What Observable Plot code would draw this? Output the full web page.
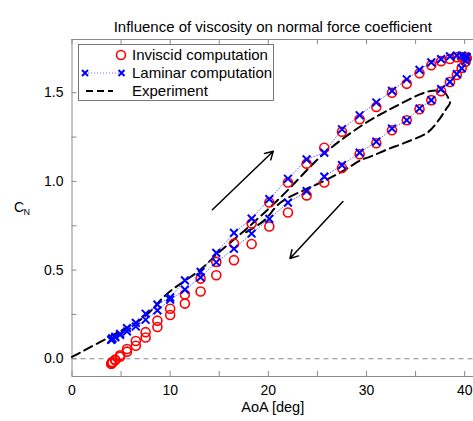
<!DOCTYPE html>
<html>
<head>
<meta charset="utf-8">
<script src="https://cdn.jsdelivr.net/npm/d3@7"></script>
<script src="https://cdn.jsdelivr.net/npm/@observablehq/plot@0.6"></script>
<style>
  html, body { margin: 0; padding: 0; background: #fff; }
  svg { display: block; }
</style>
</head>
<body>
<div id="chart"></div>
<script>
// ---- data ----
const title = "Influence of viscosity on normal force coefficient";
const xLabel = "AoA [deg]";
const yLabelMain = "C";
const yLabelSub = "N";

// angle of attack at each computed time step (one half cycle)
const aoa = [4.0, 4.1, 4.4, 4.9, 5.6, 6.5, 7.5, 8.7, 10.0, 11.5, 13.1, 14.7, 16.5, 18.3, 20.1, 22.0,
             23.9, 25.7, 27.5, 29.3, 31.0, 32.6, 34.1, 35.4, 36.6, 37.6, 38.5, 39.2, 39.7, 40.1, 40.2];

// inviscid computation (upstroke / downstroke at the same AoA)
const invUp   = [-0.028, -0.018, -0.005, 0.020, 0.055, 0.100, 0.150, 0.215, 0.282, 0.362, 0.452, 0.546,
                 0.650, 0.763, 0.881, 0.994, 1.100, 1.190, 1.280, 1.350, 1.420, 1.500, 1.550, 1.610,
                 1.655, 1.678, 1.690, 1.700, 1.700, 1.700, 1.695];
const invDown = [-0.028, -0.022, -0.008, 0.012, 0.040, 0.073, 0.120, 0.179, 0.247, 0.311, 0.379, 0.471,
                 0.556, 0.647, 0.746, 0.825, 0.921, 0.994, 1.076, 1.153, 1.215, 1.288, 1.345, 1.407,
                 1.458, 1.508, 1.560, 1.600, 1.640, 1.675, 1.695];

// laminar computation
const lamUp   = [0.107, 0.115, 0.123, 0.140, 0.173, 0.202, 0.254, 0.305, 0.346, 0.442, 0.490, 0.597,
                 0.710, 0.790, 0.900, 1.015, 1.124, 1.162, 1.294, 1.373, 1.445, 1.510, 1.576, 1.629,
                 1.671, 1.689, 1.705, 1.710, 1.710, 1.705, 1.700];
const lamDown = [0.107, 0.112, 0.122, 0.135, 0.154, 0.182, 0.220, 0.273, 0.333, 0.390, 0.459, 0.544,
                 0.620, 0.706, 0.789, 0.880, 0.945, 1.027, 1.092, 1.162, 1.224, 1.298, 1.345, 1.411,
                 1.458, 1.520, 1.561, 1.605, 1.637, 1.680, 1.700];

// experiment
const expAoA = [0, 3.9, 7.3, 9.7, 13.1, 14.8, 17.7, 21.25, 25.6, 29.4, 31.45, 33.0, 35.5, 36.75, 37.85, 38.4, 38.5,
                38.1, 37.35, 36.25, 34.0, 32.15, 30.45, 29.4, 27.7, 25.6, 23.8, 21.25, 19.5, 17.7];
const expCN  = [0.010, 0.126, 0.233, 0.367, 0.503, 0.592, 0.729, 0.910, 1.153, 1.311, 1.379, 1.424, 1.492, 1.511, 1.506, 1.463, 1.441,
                1.407, 1.345, 1.277, 1.220, 1.181, 1.141, 1.119, 1.062, 1.000, 0.955, 0.881, 0.776, 0.712];

// direction arrows
const arrowX1 = [14.3, 27.6];
const arrowY1 = [0.84, 0.887];
const arrowX2 = [20.5, 22.2];
const arrowY2 = [1.17, 0.565];

// ticks
const xTicks = [0, 10, 20, 30, 40];
const xMinor = [5, 15, 25, 35];
const yTicks = [0, 0.5, 1.0, 1.5];
const yMinor = [0.25, 0.75, 1.25];

const legendLabels = ["Inviscid computation", "Laminar computation", "Experiment"];

// ---- tables ----
const n = aoa.length;
const inviscid = [];
const laminar = [];
for (let i = 0; i < n; i++) { inviscid.push({x: aoa[i], y: invUp[i]}); laminar.push({x: aoa[i], y: lamUp[i]}); }
for (let i = n - 1; i >= 0; i--) { inviscid.push({x: aoa[i], y: invDown[i]}); laminar.push({x: aoa[i], y: lamDown[i]}); }
const experiment = expAoA.map((a, i) => ({x: a, y: expCN[i]}));
const arrows = arrowX1.map((a, i) => ({x1: a, y1: arrowY1[i], x2: arrowX2[i], y2: arrowY2[i]}));
const allX = xTicks.concat(xMinor);
const allY = yTicks.concat(yMinor);

const xDom = [0, 40.9], yDom = [-0.1, 1.8];
const tickLenY = 5 * (yDom[1] - yDom[0]) / 337;
const tickLenX = 5 * (xDom[1] - xDom[0]) / 401.5;
const frameColor = "#8a8a8a";
const FONT = "'Liberation Sans', Arial, Helvetica, sans-serif";

const chart = Plot.plot({
  width: 473,
  height: 421,
  marginLeft: 71.5,
  marginRight: 0,
  marginTop: 39,
  marginBottom: 45,
  style: {fontFamily: FONT, fontSize: "14px", background: "white", color: "black", overflow: "visible"},
  x: {domain: xDom, ticks: xTicks, tickSize: 0, tickPadding: 9, label: null, tickFormat: d => String(d)},
  y: {domain: yDom, ticks: yTicks, tickSize: 0, tickPadding: 8.5, label: null, tickFormat: d3.format(".1f")},
  marks: [
    Plot.ruleY([0], {stroke: "#7a7a7a", strokeWidth: 0.9, strokeDasharray: "5,4"}),
    // frame (top, bottom, left)
    Plot.ruleY([yDom[1], yDom[0]], {stroke: frameColor, strokeWidth: 1}),
    Plot.ruleX([xDom[0]], {stroke: frameColor, strokeWidth: 1}),
    // inward ticks
    Plot.ruleX(allX, {x: d => d, y1: yDom[0], y2: yDom[0] + tickLenY, stroke: frameColor}),
    Plot.ruleX(allX, {x: d => d, y1: yDom[1], y2: yDom[1] - tickLenY, stroke: frameColor}),
    Plot.ruleY(allY, {y: d => d, x1: xDom[0], x2: xDom[0] + tickLenX, stroke: frameColor}),
    // experiment
    Plot.line(experiment, {x: "x", y: "y", stroke: "black", strokeWidth: 2, strokeDasharray: "9,5", curve: "catmull-rom"}),
    // laminar dotted connection
    Plot.line(laminar, {x: "x", y: "y", stroke: "#4a4aff", strokeWidth: 0.8, strokeDasharray: "1,2"}),
    // inviscid circles
    Plot.dot(inviscid, {x: "x", y: "y", r: 4.5, stroke: "#ff0000", strokeWidth: 1.6, fill: "none"}),
    // laminar crosses
    Plot.dot(laminar, {x: "x", y: "y", r: 3.6, symbol: "times", stroke: "#0000ff", strokeWidth: 2}),
    // arrows
    Plot.arrow(arrows, {x1: "x1", y1: "y1", x2: "x2", y2: "y2", stroke: "black", strokeWidth: 1.5, headLength: 9}),
    // title and axis labels
    Plot.text([title], {frameAnchor: "top", dy: -18.3, fontSize: 15}),
    Plot.text([xLabel], {frameAnchor: "bottom", dy: 35, fontSize: 14.5}),
    Plot.text([yLabelMain], {frameAnchor: "left", textAnchor: "start", dx: -58, fontSize: 14}),
    Plot.text([yLabelSub], {frameAnchor: "left", textAnchor: "start", dx: -48.5, dy: 4, fontSize: 9})
  ]
});

// ---- legend (drawn in the chart's svg) ----
const svg = d3.select(chart);
const lg = svg.append("g").attr("font-family", FONT).attr("font-size", 15).attr("text-anchor", "start");
lg.append("rect").attr("x", 78.5).attr("y", 44.5).attr("width", 195).attr("height", 56)
  .attr("fill", "white").attr("stroke", "#555").attr("stroke-width", 0.8);
const rowsY = [55, 73, 91];
lg.append("circle").attr("cx", 121).attr("cy", rowsY[0]).attr("r", 4.5)
  .attr("fill", "none").attr("stroke", "#ff0000").attr("stroke-width", 1.6);
lg.append("line").attr("x1", 85).attr("x2", 121.5).attr("y1", rowsY[1]).attr("y2", rowsY[1])
  .attr("stroke", "#4a4aff").attr("stroke-width", 0.8).attr("stroke-dasharray", "1,2");
[85, 121.5].forEach(cx => {
  const s = 3;
  lg.append("path").attr("d", `M${cx - s},${rowsY[1] - s}L${cx + s},${rowsY[1] + s}M${cx - s},${rowsY[1] + s}L${cx + s},${rowsY[1] - s}`)
    .attr("stroke", "#0000ff").attr("stroke-width", 2);
});
lg.append("line").attr("x1", 86).attr("x2", 113).attr("y1", rowsY[2]).attr("y2", rowsY[2])
  .attr("stroke", "black").attr("stroke-width", 2).attr("stroke-dasharray", "7,4");
legendLabels.forEach((t, i) => {
  lg.append("text").attr("x", 132).attr("y", rowsY[i]).attr("dy", "0.35em").text(t);
});

document.getElementById("chart").appendChild(chart);
</script>
</body>
</html>
